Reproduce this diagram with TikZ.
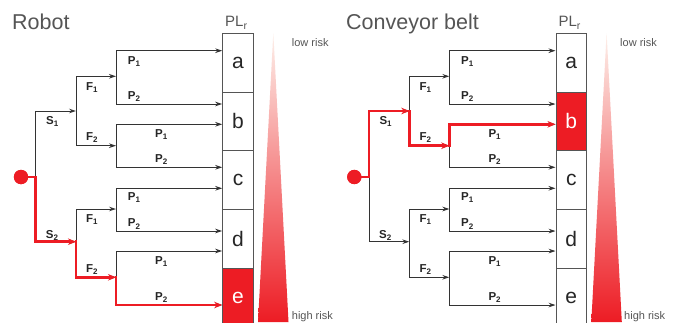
\documentclass[tikz,border=0pt]{standalone}
\usepackage{fontspec}
\setmainfont{Liberation Sans}
\usetikzlibrary{arrows.meta}
\definecolor{tred}{HTML}{ED1C24}
\definecolor{tline}{HTML}{333333}
\definecolor{tgray}{HTML}{555555}
\definecolor{tpale}{HTML}{FDF0EA}
\definecolor{tsalmon}{HTML}{F5A07E}
\newcommand\mysub[2]{#1\raisebox{-0.4ex}{\fontsize{8}{8}\selectfont #2}}
\newcommand\plsub[2]{#1\raisebox{-0.45ex}{\fontsize{10.5}{10.5}\selectfont #2}}
\newcommand\drawpanel[1]{%
  \coordinate (#1s) at (35.7,177);
  \coordinate (#1s1) at (35.7,111);
  \coordinate (#1s2) at (35.7,241.7);
  \coordinate (#1A) at (76,111);
  \coordinate (#1A1) at (76,76.3);
  \coordinate (#1A2) at (76,145.7);
  \coordinate (#1B) at (76,241.7);
  \coordinate (#1B1) at (76,209);
  \coordinate (#1B2) at (76,277.3);
  \coordinate (#1C1) at (116,76.3);
  \coordinate (#1C2) at (116,145.7);
  \coordinate (#1C3) at (116,209);
  \coordinate (#1C4) at (116,277.3);
  \coordinate (#1p1) at (116,50.7);
  \coordinate (#1p2) at (116,104);
  \coordinate (#1p3) at (116,124.3);
  \coordinate (#1p4) at (116,167.3);
  \coordinate (#1p5) at (116,188.3);
  \coordinate (#1p6) at (116,231);
  \coordinate (#1p7) at (116,251);
  \coordinate (#1p8) at (116,305);
  \draw[conn] (#1s1) -- (#1s2);
  \draw[arr] (#1s1) -- (#1A);
  \draw[arr] (#1s2) -- (#1B);
  \draw[conn] (#1A1) -- (#1A2);
  \draw[conn] (#1B1) -- (#1B2);
  \draw[arr] (#1A1) -- (#1C1);
  \draw[arr] (#1A2) -- (#1C2);
  \draw[arr] (#1B1) -- (#1C3);
  \draw[arr] (#1B2) -- (#1C4);
  \draw[conn] (#1p1) -- (#1p2);
  \draw[conn] (#1p3) -- (#1p4);
  \draw[conn] (#1p5) -- (#1p6);
  \draw[conn] (#1p7) -- (#1p8);
  \foreach \k in {1,...,8} {\draw[arr] (#1p\k) -- (#1p\k -| #1a.west);}
  \node[lbl] (#1lS1) at (46,124.3) {\mysub{S}{1}};
  \node[lbl] (#1lS2) at (45.7,238) {\mysub{S}{2}};
  \node[lbl] (#1lF1) at (86,90) {\mysub{F}{1}};
  \node[lbl] (#1lF2) at (86,140) {\mysub{F}{2}};
  \node[lbl] (#1lF3) at (86,222) {\mysub{F}{1}};
  \node[lbl] (#1lF4) at (86,272) {\mysub{F}{2}};
  \node[lbl] (#1lP1) at (127.7,64) {\mysub{P}{1}};
  \node[lbl] (#1lP2) at (127.7,99.3) {\mysub{P}{2}};
  \node[lbl] (#1lP3) at (155,137) {\mysub{P}{1}};
  \node[lbl] (#1lP4) at (155,162.5) {\mysub{P}{2}};
  \node[lbl] (#1lP5) at (127.7,200) {\mysub{P}{1}};
  \node[lbl] (#1lP6) at (127.7,226.7) {\mysub{P}{2}};
  \node[lbl] (#1lP7) at (155,264) {\mysub{P}{1}};
  \node[lbl] (#1lP8) at (155,300) {\mysub{P}{2}};
  \node[plr] (#1PL) at (225,26) {\plsub{PL}{r}};
  \node[dot] (#1dot) at (21,177) {};
}
\begin{document}
\begin{tikzpicture}[x=1pt,y=-1pt,
  conn/.style={draw=tline, line width=1pt},
  arr/.style={conn, -{Stealth[length=7pt,width=4.6pt]}},
  redpath/.style={draw=tred, line width=2.6pt, line cap=rect, -{Stealth[length=8pt,width=6.5pt]}},
  cell/.style={draw=tgray, line width=1pt, minimum width=30.6pt, minimum height=58.7pt, inner sep=0, font=\fontsize{21}{21}\selectfont, text=black!85},
  hot/.style={fill=tred, text=white},
  lbl/.style={anchor=base west, inner sep=0, font=\bfseries\fontsize{11.5}{11.5}\selectfont, text=black!85},
  plr/.style={anchor=base west, inner sep=0, font=\fontsize{15}{15}\selectfont, text=tgray},
  title/.style={anchor=base west, inner sep=0, font=\fontsize{21.5}{21.5}\selectfont, text=tgray},
  risk/.style={anchor=base west, inner sep=0, font=\fontsize{11}{11}\selectfont, text=tgray},
  dot/.style={circle, fill=tred, minimum size=14.3pt, inner sep=0}
]
\useasboundingbox (0,0) rectangle (679,322);
\clip (0,0) rectangle (679,322);
\fill[white] (0,0) rectangle (679,322);
% ---------- left panel: Robot ----------
\begin{scope}
  \node[title] (Ltitle) at (12,29) {Robot};
  \node[cell] (La) at (238,62.65) {a};
  \node[cell] (Lb) at (238,121.35) {b};
  \node[cell] (Lc) at (238,180.05) {c};
  \node[cell] (Ld) at (238,238.75) {d};
  \node[cell,hot] (Le) at (238,297.45) {e};
  \shade[top color=tpale, middle color=tsalmon, bottom color=tred] (273.3,33) -- (288.5,322) -- (258,322) -- cycle;
  \node[risk] (Llow) at (291.7,46.5) {low risk};
  \node[risk] (Lhigh) at (291.7,319) {high risk};
  \drawpanel{L}
  \draw[redpath] (Ldot.center) -- (Ls) -- (Ls2) -- (LB);
  \draw[redpath] (LB) -- (LB2) -- (LC4);
  \draw[redpath] (LC4) -- (Lp8) -- (Lp8 -| Le.west);
  \node[dot] at (Ldot) {};
\end{scope}
% ---------- right panel: Conveyor belt ----------
\begin{scope}[xshift=333.3pt]
  \node[title] (Rtitle) at (12.7,29) {Conveyor belt};
  \node[cell] (Ra) at (238,62.65) {a};
  \node[cell,hot] (Rb) at (238,121.35) {b};
  \node[cell] (Rc) at (238,180.05) {c};
  \node[cell] (Rd) at (238,238.75) {d};
  \node[cell] (Re) at (238,297.45) {e};
  \shade[top color=tpale, middle color=tsalmon, bottom color=tred] (273.3,33) -- (288.5,322) -- (258,322) -- cycle;
  \node[risk] (Rlow) at (286.7,46.5) {low risk};
  \node[risk] (Rhigh) at (290.7,319) {high risk};
  \drawpanel{R}
  \draw[redpath] (Rdot.center) -- (Rs) -- (Rs1) -- (RA);
  \draw[redpath] (RA) -- (RA2) -- (RC2);
  \draw[redpath] (RC2) -- (Rp3) -- (Rp3 -| Rb.west);
  \node[dot] at (Rdot) {};
\end{scope}
\end{tikzpicture}
\end{document}
